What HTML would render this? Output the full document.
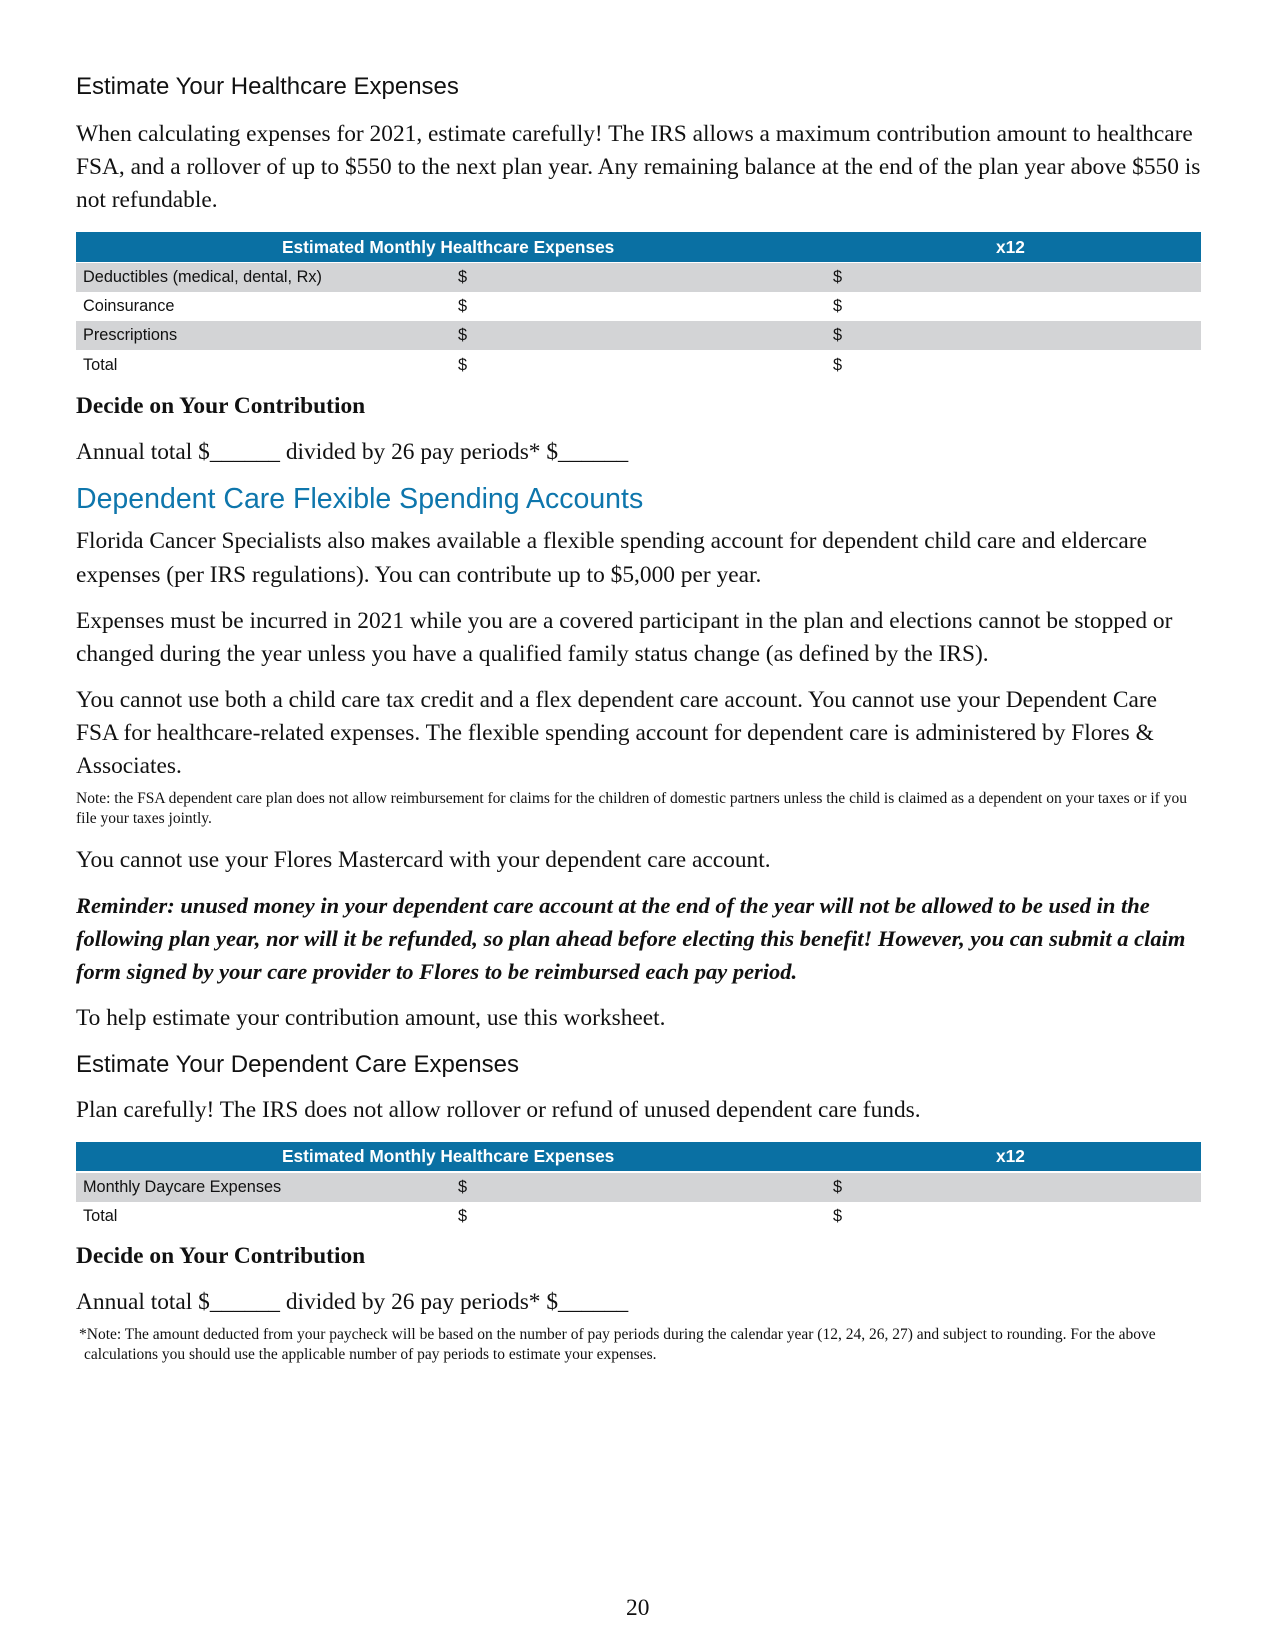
<!DOCTYPE html>
<html><head><meta charset="utf-8"><style>
body{margin:0;background:#fff;}
.p{position:relative;width:1275px;height:1651px;overflow:hidden;}
.a{position:absolute;white-space:nowrap;line-height:34px;height:34px;}
.s{font-family:"Liberation Serif",serif;font-size:23.4px;color:#111;left:76px;}
.h{font-family:"Liberation Sans",sans-serif;font-size:24px;color:#111;left:76px;}
.n{font-family:"Liberation Serif",serif;font-size:15.5px;color:#111;left:76px;line-height:20px;height:20px;}
.bar{position:absolute;left:76px;width:1125px;background:#0a70a3;}
.row{position:absolute;left:76px;width:1125px;height:29px;font-family:"Liberation Sans",sans-serif;font-size:16.3px;line-height:29px;color:#111;}
.row span{position:absolute;}
.g{background:#d3d4d6;}
.th{position:absolute;color:#fff;font-family:"Liberation Sans",sans-serif;font-weight:bold;font-size:17.3px;}
</style></head><body><div class="p">
<div class="a h" style="top:70px">Estimate Your Healthcare Expenses</div>
<div class="a s" style="top:117px">When calculating expenses for 2021, estimate carefully! The IRS allows a maximum contribution amount to healthcare</div>
<div class="a s" style="top:150px">FSA, and a rollover of up to $550 to the next plan year. Any remaining balance at the end of the plan year above $550 is</div>
<div class="a s" style="top:183px">not refundable.</div>

<div class="bar" style="top:232px;height:30px;"><span class="th" style="left:206px;top:0;line-height:30px">Estimated Monthly Healthcare Expenses</span><span class="th" style="left:920px;top:0;line-height:30px">x12</span></div>
<div class="row g" style="top:263px"><span style="left:7px">Deductibles (medical, dental, Rx)</span><span style="left:382px">$</span><span style="left:757px">$</span></div>
<div class="row" style="top:292px"><span style="left:7px">Coinsurance</span><span style="left:382px">$</span><span style="left:757px">$</span></div>
<div class="row g" style="top:321px"><span style="left:7px">Prescriptions</span><span style="left:382px">$</span><span style="left:757px">$</span></div>
<div class="row" style="top:351px"><span style="left:7px">Total</span><span style="left:382px">$</span><span style="left:757px">$</span></div>

<div class="a s" style="top:389px;font-weight:bold">Decide on Your Contribution</div>
<div class="a s" style="top:435px">Annual total $______ divided by 26 pay periods* $______</div>
<div class="a h" style="top:480px;font-size:28.5px;line-height:38px;height:38px;color:#0e76ac">Dependent Care Flexible Spending Accounts</div>
<div class="a s" style="top:524px">Florida Cancer Specialists also makes available a flexible spending account for dependent child care and eldercare</div>
<div class="a s" style="top:558px">expenses (per IRS regulations). You can contribute up to $5,000 per year.</div>
<div class="a s" style="top:604px">Expenses must be incurred in 2021 while you are a covered participant in the plan and elections cannot be stopped or</div>
<div class="a s" style="top:637px">changed during the year unless you have a qualified family status change (as defined by the IRS).</div>
<div class="a s" style="top:683px">You cannot use both a child care tax credit and a flex dependent care account. You cannot use your Dependent Care</div>
<div class="a s" style="top:716px">FSA for healthcare-related expenses. The flexible spending account for dependent care is administered by Flores &amp;</div>
<div class="a s" style="top:749px">Associates.</div>
<div class="a n" style="top:789px">Note: the FSA dependent care plan does not allow reimbursement for claims for the children of domestic partners unless the child is claimed as a dependent on your taxes or if you</div>
<div class="a n" style="top:809px">file your taxes jointly.</div>
<div class="a s" style="top:843px">You cannot use your Flores Mastercard with your dependent care account.</div>
<div class="a s" style="top:889px;font-weight:bold;font-style:italic;font-size:22.5px">Reminder: unused money in your dependent care account at the end of the year will not be allowed to be used in the</div>
<div class="a s" style="top:922px;font-weight:bold;font-style:italic;font-size:22.5px">following plan year, nor will it be refunded, so plan ahead before electing this benefit! However, you can submit a claim</div>
<div class="a s" style="top:955px;font-weight:bold;font-style:italic;font-size:22.5px">form signed by your care provider to Flores to be reimbursed each pay period.</div>
<div class="a s" style="top:1001px">To help estimate your contribution amount, use this worksheet.</div>
<div class="a h" style="top:1048px">Estimate Your Dependent Care Expenses</div>
<div class="a s" style="top:1093px">Plan carefully! The IRS does not allow rollover or refund of unused dependent care funds.</div>

<div class="bar" style="top:1142px;height:29px;"><span class="th" style="left:206px;top:0;line-height:29px">Estimated Monthly Healthcare Expenses</span><span class="th" style="left:920px;top:0;line-height:29px">x12</span></div>
<div class="row g" style="top:1173px"><span style="left:7px">Monthly Daycare Expenses</span><span style="left:382px">$</span><span style="left:757px">$</span></div>
<div class="row" style="top:1202px"><span style="left:7px">Total</span><span style="left:382px">$</span><span style="left:757px">$</span></div>

<div class="a s" style="top:1239px;font-weight:bold">Decide on Your Contribution</div>
<div class="a s" style="top:1285px">Annual total $______ divided by 26 pay periods* $______</div>
<div class="a n" style="top:1325px;left:79px">*Note: The amount deducted from your paycheck will be based on the number of pay periods during the calendar year (12, 24, 26, 27) and subject to rounding. For the above</div>
<div class="a n" style="top:1345px;left:84px">calculations you should use the applicable number of pay periods to estimate your expenses.</div>
<div class="a s" style="top:1591px;left:626px">20</div>
</div></body></html>
